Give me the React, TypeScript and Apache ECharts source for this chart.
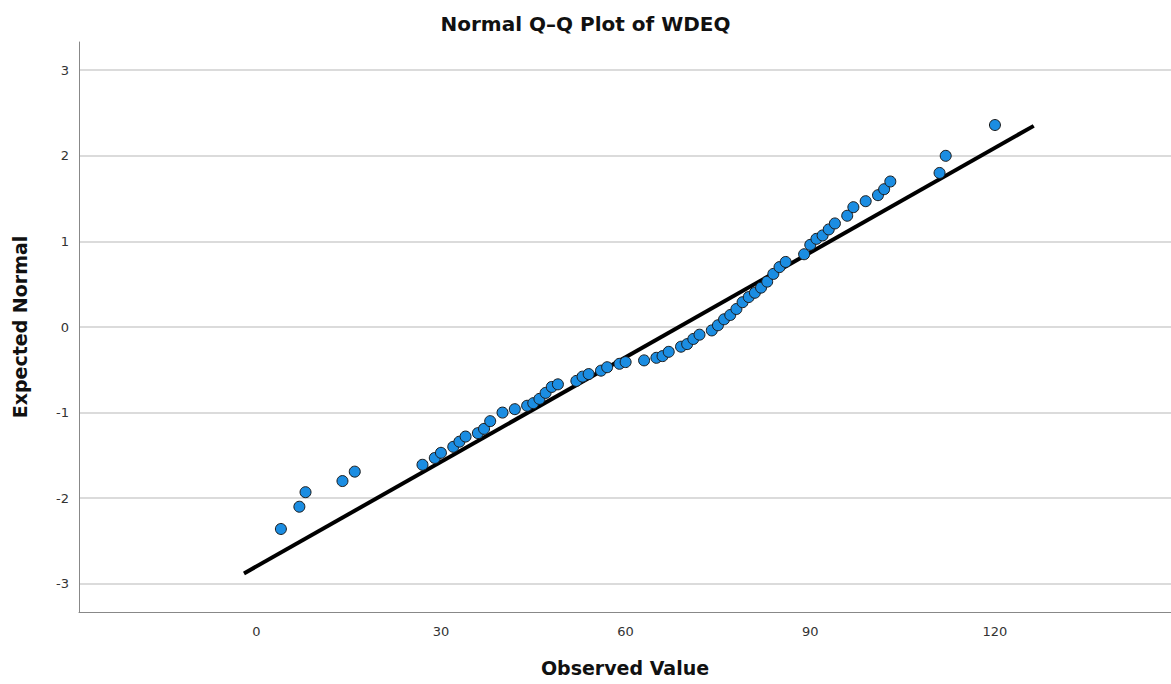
import React, { useEffect, useRef } from "react";
import * as echarts from "echarts";

const observed = [4, 7, 8, 14, 16, 27, 29, 30, 32, 33, 34, 36, 37, 38, 40, 42, 44, 45, 46, 47, 48, 49, 52, 53, 54, 56, 57, 59, 60, 63, 65, 66, 67, 69, 70, 71, 72, 74, 75, 76, 77, 78, 79, 80, 81, 82, 83, 84, 85, 86, 89, 90, 91, 92, 93, 94, 96, 97, 99, 101, 102, 103, 111, 112, 120];
const expected = [-2.36, -2.10, -1.93, -1.80, -1.69, -1.61, -1.53, -1.47, -1.40, -1.34, -1.28, -1.24, -1.19, -1.10, -1.00, -0.96, -0.92, -0.89, -0.84, -0.77, -0.70, -0.67, -0.63, -0.58, -0.55, -0.51, -0.47, -0.43, -0.41, -0.39, -0.36, -0.34, -0.29, -0.23, -0.20, -0.14, -0.09, -0.04, 0.02, 0.09, 0.14, 0.21, 0.29, 0.35, 0.40, 0.46, 0.53, 0.62, 0.70, 0.76, 0.85, 0.96, 1.03, 1.07, 1.14, 1.21, 1.30, 1.40, 1.47, 1.54, 1.61, 1.70, 1.80, 2.00, 2.36];
const lineX = [-2, 126.3];
const lineY = [-2.88, 2.35];
const xTicks = [0, 30, 60, 90, 120];
const yTicks = [-3, -2, -1, 0, 1, 2, 3];

const FONT = "'DejaVu Sans', 'Noto Sans', sans-serif";

export default function App() {
  const ref = useRef<HTMLDivElement>(null);
  useEffect(() => {
    document.body.style.margin = "0";
    const chart = echarts.init(ref.current!, null, { renderer: "svg" });
    chart.setOption({
      animation: false,
      backgroundColor: "#ffffff",
      title: {
        text: "Normal Q–Q Plot of WDEQ",
        left: "center",
        top: 9,
        textStyle: { fontFamily: FONT, fontSize: 20, fontWeight: "bold", color: "#111" },
      },
      grid: { left: 79, right: 0, top: 42, bottom: 72, containLabel: false },
      xAxis: {
        type: "value",
        min: -28.8,
        max: 148.6,
        name: "Observed Value",
        nameLocation: "middle",
        nameGap: 46,
        nameTextStyle: { fontFamily: FONT, fontSize: 19, fontWeight: "bold", color: "#111" },
        axisLine: { show: true, onZero: false, lineStyle: { color: "#888", width: 1 } },
        axisTick: { show: false, customValues: xTicks },
        axisLabel: { customValues: xTicks, fontFamily: FONT, fontSize: 13, color: "#333", margin: 13 },
        splitLine: { show: false },
      },
      yAxis: {
        type: "value",
        min: -3.33,
        max: 3.33,
        name: "Expected Normal",
        nameLocation: "middle",
        nameGap: 50,
        nameRotate: 90,
        nameTextStyle: { fontFamily: FONT, fontSize: 19, fontWeight: "bold", color: "#111" },
        axisLine: { show: true, onZero: false, lineStyle: { color: "#888", width: 1 } },
        axisTick: { show: false, customValues: yTicks },
        axisLabel: { customValues: yTicks, fontFamily: FONT, fontSize: 13, color: "#333", margin: 10 },
        splitLine: { show: true, customValues: yTicks, lineStyle: { color: "#cfcfcf", width: 1.5 } },
      },
      series: [
        {
          type: "line",
          data: lineX.map((x, i) => [x, lineY[i]]),
          symbol: "none",
          lineStyle: { color: "#000", width: 4 },
          z: 2,
        },
        {
          type: "scatter",
          data: observed.map((x, i) => [x, expected[i]]),
          symbolSize: 11,
          itemStyle: { color: "#1b8de2", borderColor: "#1a1a1a", borderWidth: 1, opacity: 1 },
          z: 3,
        },
      ],
    });
    return () => chart.dispose();
  }, []);
  return <div ref={ref} style={{ width: 1171, height: 684 }} />;
}
